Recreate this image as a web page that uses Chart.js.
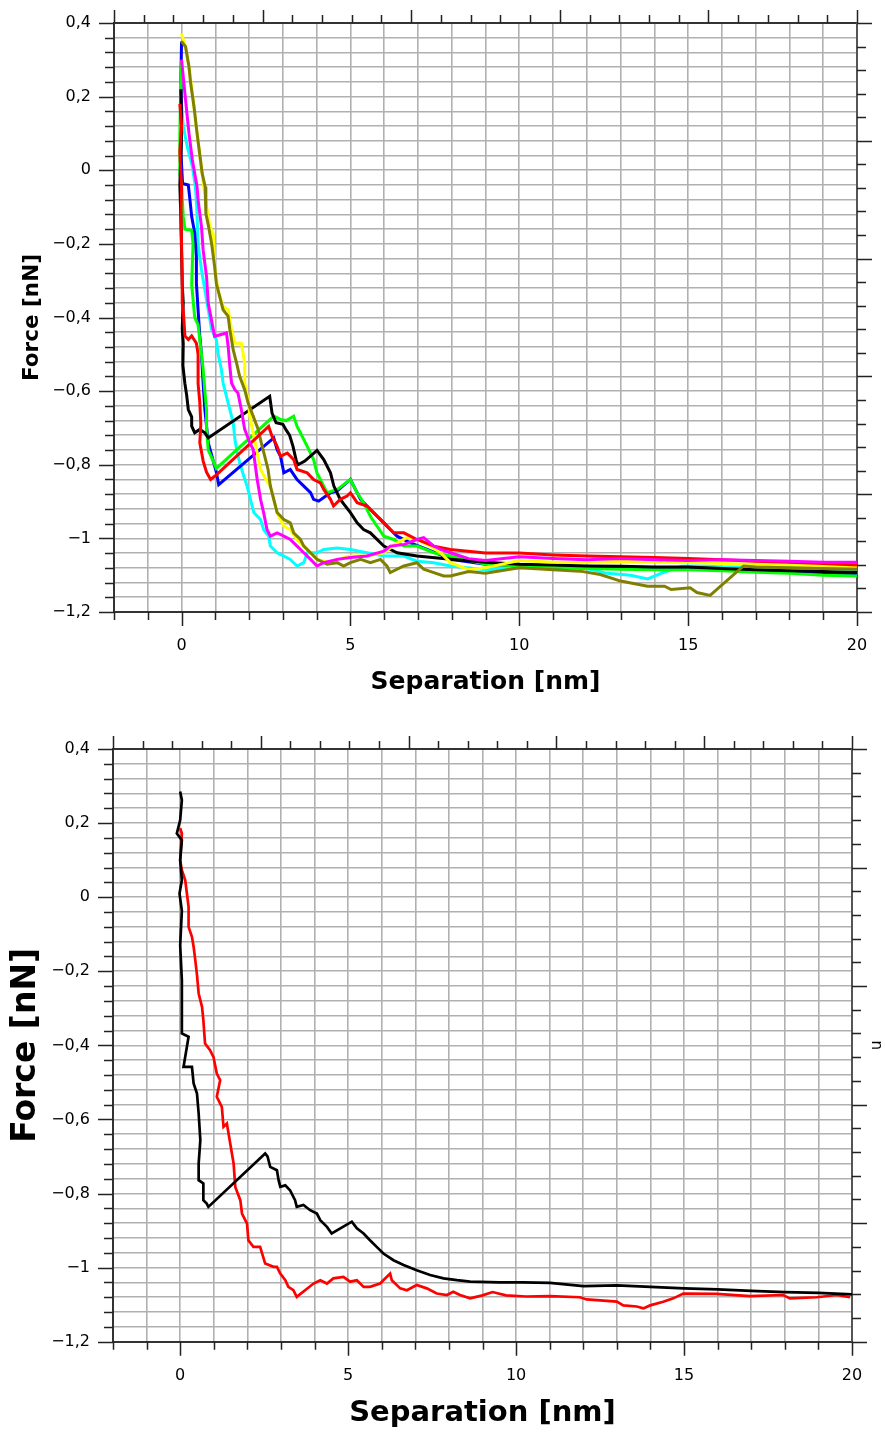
<!doctype html>
<html lang="en">
  <head>
    <meta charset="UTF-8" />
    <title>Force vs separation</title>
    <script src="https://cdn.jsdelivr.net/npm/chart.js"></script>
    <style>
      body { margin: 0; background: #fff; }
      canvas { position: absolute; left: 0; }
      #topChart { top: 0; }
      #bottomChart { top: 715px; }
    </style>
  </head>
  <body>
    <canvas id="topChart" width="885" height="700"></canvas>
    <canvas id="bottomChart" width="885" height="717"></canvas>

    <script>
      // labelled ticks
      const sepLabels = [0, 5, 10, 15, 20]
      const forceLabels = [0.4, 0.2, 0, -0.2, -0.4, -0.6, -0.8, -1, -1.2]

      // top panel, [separation nm, force nN]
      const topBlack = [
        [-0.02, 0.22], [0, 0.1], [-0.05, -0.04], [-0.02, -0.13], [0, -0.22], [0.02, -0.31],
        [0.05, -0.36], [0.02, -0.43], [0.05, -0.47], [0.04, -0.53], [0.1, -0.58], [0.15, -0.61],
        [0.2, -0.65], [0.3, -0.67], [0.3, -0.695], [0.39, -0.713], [0.54, -0.704], [0.69, -0.713],
        [0.79, -0.727], [2.61, -0.614], [2.68, -0.66], [2.8, -0.686], [3.0, -0.69], [3.1, -0.706],
        [3.2, -0.72], [3.3, -0.75], [3.4, -0.79], [3.45, -0.8], [3.65, -0.79], [4.01, -0.761],
        [4.21, -0.786], [4.41, -0.822], [4.51, -0.858], [4.7, -0.894], [5.0, -0.93], [5.2, -0.958],
        [5.39, -0.976], [5.59, -0.985], [5.99, -1.021], [6.38, -1.039], [6.97, -1.048], [7.96, -1.057],
        [9, -1.065], [10, -1.07], [11, -1.072], [12, -1.075], [13, -1.076], [14, -1.078], [15, -1.078],
        [16, -1.082], [17, -1.085], [18, -1.088], [19, -1.09], [20, -1.093],
      ]
      const topRed = [
        [-0.05, 0.18], [0, 0.12], [-0.05, 0.05], [0, -0.05], [-0.02, -0.12], [0, -0.2], [0.02, -0.3],
        [0.02, -0.36], [0.05, -0.38], [0.1, -0.45], [0.2, -0.46], [0.3, -0.45], [0.44, -0.47],
        [0.49, -0.5], [0.49, -0.58], [0.54, -0.63], [0.57, -0.69], [0.54, -0.74], [0.64, -0.79],
        [0.74, -0.82], [0.86, -0.84], [1.0, -0.83], [2.58, -0.696], [2.68, -0.723], [2.83, -0.75],
        [2.93, -0.777], [3.13, -0.768], [3.32, -0.786], [3.42, -0.813], [3.72, -0.822], [3.91, -0.84],
        [4.11, -0.849], [4.21, -0.867], [4.41, -0.894], [4.5, -0.912], [4.7, -0.894], [4.9, -0.885],
        [5.0, -0.876], [5.2, -0.903], [5.49, -0.912], [5.69, -0.93], [5.99, -0.958], [6.28, -0.985],
        [6.58, -0.985], [6.97, -1.003], [7.47, -1.021], [7.96, -1.03], [9, -1.04], [10, -1.04],
        [11, -1.045], [12, -1.048], [13, -1.05], [14, -1.052], [15, -1.055], [16, -1.058],
        [17, -1.062], [18, -1.065], [19, -1.068], [20, -1.072],
      ]
      const topGreen = [
        [0, 0.3], [-0.03, 0.2], [-0.05, 0.1], [-0.05, 0.05], [-0.05, -0.01], [0, -0.04], [0.05, -0.126],
        [0.1, -0.16], [0.3, -0.163], [0.34, -0.2], [0.3, -0.31], [0.34, -0.35], [0.39, -0.4],
        [0.49, -0.42], [0.54, -0.46], [0.59, -0.5], [0.64, -0.54], [0.69, -0.6], [0.74, -0.65],
        [0.74, -0.7], [0.79, -0.76], [0.94, -0.79], [1.03, -0.81], [2.73, -0.668], [2.93, -0.677],
        [3.1, -0.68], [3.32, -0.668], [3.42, -0.696], [3.52, -0.713], [3.72, -0.75], [3.91, -0.786],
        [4.01, -0.822], [4.21, -0.858], [4.31, -0.876], [4.61, -0.867], [5.0, -0.84], [5.2, -0.876],
        [5.39, -0.903], [5.59, -0.94], [5.79, -0.967], [5.99, -0.994], [6.28, -1.003], [6.58, -1.021],
        [6.97, -1.021], [7.47, -1.039], [7.96, -1.048], [9, -1.07], [10, -1.075], [11, -1.078],
        [12, -1.082], [13, -1.084], [14, -1.085], [15, -1.085], [16, -1.088], [17, -1.092],
        [18, -1.095], [19, -1.1], [20, -1.102],
      ]
      const topBlue = [
        [0, 0.35], [-0.02, 0.25], [0, 0.15], [-0.02, 0.05], [0.03, -0.036], [0.2, -0.04],
        [0.25, -0.081], [0.3, -0.126], [0.39, -0.17], [0.44, -0.235], [0.44, -0.307], [0.49, -0.38],
        [0.54, -0.45], [0.59, -0.5], [0.64, -0.58], [0.69, -0.65], [0.74, -0.695], [0.79, -0.74],
        [0.94, -0.79], [1.03, -0.82], [1.1, -0.854], [2.73, -0.727], [2.83, -0.759], [2.93, -0.777],
        [3.03, -0.822], [3.22, -0.813], [3.42, -0.84], [3.62, -0.858], [3.82, -0.876], [3.91, -0.894],
        [4.06, -0.899], [4.41, -0.876], [4.61, -0.871], [5.0, -0.84], [5.1, -0.858], [5.3, -0.894],
        [5.49, -0.912], [5.79, -0.94], [5.99, -0.958], [6.18, -0.976], [6.38, -0.994], [6.78, -1.012],
        [7.27, -1.03], [7.76, -1.048], [7.96, -1.057], [9, -1.07], [10, -1.075], [11, -1.078],
        [12, -1.08], [13, -1.08], [14, -1.082], [15, -1.082], [16, -1.085], [17, -1.088],
        [18, -1.092], [19, -1.096], [20, -1.098],
      ]
      const topCyan = [
        [0, 0.18], [0.05, 0.12], [0.17, 0.064], [0.32, 0.01], [0.41, -0.045], [0.45, -0.1],
        [0.49, -0.2], [0.59, -0.27], [0.69, -0.325], [0.79, -0.379], [0.89, -0.433], [1.03, -0.46],
        [1.08, -0.497], [1.18, -0.542], [1.23, -0.578], [1.33, -0.614], [1.43, -0.65], [1.53, -0.686],
        [1.58, -0.731], [1.63, -0.758], [1.72, -0.794], [1.84, -0.83], [1.94, -0.858], [2.04, -0.894],
        [2.14, -0.93], [2.34, -0.949], [2.43, -0.976], [2.58, -0.994], [2.63, -1.021], [2.83, -1.039],
        [3.03, -1.048], [3.22, -1.057], [3.42, -1.075], [3.62, -1.066], [3.72, -1.039], [4.01, -1.039],
        [4.21, -1.03], [4.61, -1.026], [5.0, -1.03], [5.49, -1.039], [5.99, -1.048], [6.58, -1.048],
        [6.97, -1.062], [7.47, -1.066], [7.96, -1.075], [9, -1.085], [10, -1.08], [11, -1.078],
        [12, -1.082], [12.6, -1.095], [13.3, -1.1], [13.8, -1.11], [14.2, -1.095], [14.8, -1.076],
        [15.5, -1.075], [16, -1.078], [17, -1.078], [18, -1.08], [19, -1.082], [20, -1.085],
      ]
      const topMagenta = [
        [0, 0.3], [0.12, 0.19], [0.22, 0.1], [0.32, 0.028], [0.46, -0.045], [0.49, -0.081],
        [0.59, -0.153], [0.64, -0.217], [0.74, -0.289], [0.79, -0.361], [0.94, -0.433], [0.98, -0.451],
        [1.33, -0.442], [1.38, -0.478], [1.43, -0.533], [1.48, -0.578], [1.58, -0.596], [1.67, -0.605],
        [1.77, -0.65], [1.87, -0.704], [2.02, -0.74], [2.12, -0.758], [2.24, -0.84], [2.34, -0.894],
        [2.43, -0.93], [2.53, -0.976], [2.63, -0.994], [2.83, -0.985], [3.03, -0.994], [3.22, -1.003],
        [3.42, -1.021], [3.62, -1.039], [3.82, -1.057], [4.01, -1.075], [4.21, -1.066], [4.61, -1.057],
        [5.0, -1.052], [5.49, -1.048], [5.99, -1.035], [6.18, -1.021], [6.58, -1.017], [6.97, -1.003],
        [7.17, -0.998], [7.47, -1.021], [7.67, -1.03], [7.96, -1.039], [8.5, -1.055], [9, -1.06],
        [10, -1.05], [11, -1.055], [12, -1.058], [13, -1.055], [14, -1.058], [15, -1.06],
        [16, -1.058], [17, -1.06], [18, -1.062], [19, -1.065], [20, -1.065],
      ]
      const topYellow = [
        [0, 0.371], [0.12, 0.335], [0.22, 0.281], [0.32, 0.209], [0.41, 0.136], [0.51, 0.064],
        [0.61, -0.008], [0.71, -0.081], [0.84, -0.153], [0.94, -0.172], [0.98, -0.262], [1.08, -0.325],
        [1.23, -0.37], [1.38, -0.379], [1.48, -0.433], [1.58, -0.47], [1.77, -0.47], [1.87, -0.524],
        [1.87, -0.578], [1.97, -0.623], [2.02, -0.668], [2.12, -0.713], [2.22, -0.758], [2.34, -0.813],
        [2.5, -0.84], [2.63, -0.858], [2.73, -0.894], [2.83, -0.93], [2.93, -0.949], [3.03, -0.967],
        [3.22, -0.976], [3.42, -1.003], [3.62, -1.021], [3.82, -1.039], [4.01, -1.057], [4.41, -1.066],
        [4.61, -1.057], [5.0, -1.048], [5.49, -1.048], [5.99, -1.039], [6.38, -1.012], [6.68, -0.998],
        [6.97, -1.003], [7.37, -1.021], [7.67, -1.039], [7.96, -1.066], [8.5, -1.085], [9, -1.08],
        [9.5, -1.07], [10, -1.06], [11, -1.065], [12, -1.065], [13, -1.062], [14, -1.064],
        [15, -1.065], [16, -1.068], [17, -1.07], [18, -1.072], [19, -1.075], [20, -1.076],
      ]
      const topOlive = [
        [0, 0.35], [0.12, 0.335], [0.22, 0.281], [0.27, 0.236], [0.37, 0.172], [0.46, 0.1],
        [0.56, 0.028], [0.61, -0.008], [0.7, -0.045], [0.72, -0.117], [0.8, -0.153], [0.89, -0.199],
        [0.98, -0.262], [1.03, -0.307], [1.13, -0.343], [1.23, -0.379], [1.38, -0.397], [1.43, -0.433],
        [1.53, -0.488], [1.63, -0.524], [1.72, -0.56], [1.87, -0.596], [1.97, -0.632], [2.12, -0.668],
        [2.27, -0.704], [2.36, -0.74], [2.46, -0.776], [2.56, -0.812], [2.63, -0.858], [2.73, -0.894],
        [2.83, -0.93], [3.03, -0.949], [3.22, -0.958], [3.32, -0.985], [3.52, -1.003], [3.62, -1.021],
        [3.82, -1.039], [4.01, -1.057], [4.31, -1.07], [4.61, -1.066], [4.8, -1.075], [5.0, -1.066],
        [5.3, -1.057], [5.59, -1.066], [5.89, -1.057], [6.08, -1.075], [6.18, -1.093], [6.58, -1.075],
        [6.97, -1.066], [7.17, -1.084], [7.47, -1.093], [7.76, -1.102], [7.96, -1.102], [8.5, -1.09],
        [9, -1.095], [10, -1.08], [11, -1.085], [11.8, -1.089], [12.4, -1.098], [13, -1.116],
        [13.8, -1.13], [14.3, -1.13], [14.5, -1.139], [15.06, -1.134], [15.26, -1.147], [15.65, -1.155],
        [16.64, -1.075], [17, -1.078], [18, -1.08], [19, -1.082], [20, -1.084],
      ]

      // bottom panel
      const bottomBlack = [
        [0, 0.285], [0.05, 0.262], [0, 0.208], [-0.1, 0.172], [0.05, 0.154], [0, 0.1], [0.05, 0.046],
        [-0.02, 0.01], [0.05, -0.037], [0, -0.13], [0.05, -0.224], [0.05, -0.314], [0.05, -0.368],
        [0.25, -0.377], [0.1, -0.458], [0.35, -0.458], [0.4, -0.503], [0.5, -0.53], [0.55, -0.584],
        [0.6, -0.656], [0.55, -0.719], [0.55, -0.764], [0.69, -0.773], [0.69, -0.818], [0.79, -0.827],
        [0.84, -0.836], [2.53, -0.692], [2.6, -0.7], [2.68, -0.728], [2.88, -0.737], [2.93, -0.764],
        [2.98, -0.782], [3.13, -0.778], [3.27, -0.791], [3.42, -0.818], [3.47, -0.836], [3.67, -0.831],
        [3.87, -0.845], [4.07, -0.854], [4.17, -0.872], [4.37, -0.89], [4.51, -0.908], [5.11, -0.876],
        [5.26, -0.894], [5.46, -0.908], [5.65, -0.926], [5.85, -0.944], [6.05, -0.962], [6.35, -0.98],
        [6.65, -0.993], [7.04, -1.007], [7.44, -1.02], [7.84, -1.029], [8.24, -1.034], [8.63, -1.038],
        [9.5, -1.04], [10.2, -1.04], [11.01, -1.041], [12, -1.05], [13, -1.048], [14, -1.052],
        [15, -1.056], [16, -1.059], [17, -1.063], [18, -1.066], [19, -1.068], [20, -1.072],
      ]
      const bottomRed = [
        [0, 0.186], [0.05, 0.172], [0, 0.1], [0.05, 0.073], [0.15, 0.046], [0.2, 0.01], [0.25, -0.026],
        [0.25, -0.08], [0.35, -0.107], [0.4, -0.134], [0.45, -0.17], [0.5, -0.21], [0.55, -0.26],
        [0.65, -0.296], [0.69, -0.332], [0.74, -0.395], [0.89, -0.413], [0.99, -0.431], [1.09, -0.476],
        [1.19, -0.494], [1.09, -0.539], [1.24, -0.566], [1.29, -0.62], [1.39, -0.611], [1.49, -0.665],
        [1.59, -0.719], [1.64, -0.782], [1.79, -0.818], [1.84, -0.854], [1.99, -0.881], [2.03, -0.926],
        [2.18, -0.944], [2.38, -0.944], [2.53, -0.989], [2.78, -0.998], [2.88, -0.998], [2.98, -1.016],
        [3.13, -1.034], [3.22, -1.052], [3.37, -1.061], [3.47, -1.079], [3.97, -1.043], [4.17, -1.034],
        [4.37, -1.043], [4.56, -1.029], [4.86, -1.025], [5.06, -1.038], [5.26, -1.034], [5.46, -1.052],
        [5.65, -1.052], [5.95, -1.043], [6.25, -1.016], [6.3, -1.034], [6.55, -1.056], [6.75, -1.061],
        [7.04, -1.047], [7.34, -1.056], [7.64, -1.07], [7.94, -1.074], [8.13, -1.065], [8.33, -1.074],
        [8.63, -1.083], [9.0, -1.075], [9.3, -1.066], [9.7, -1.075], [10.3, -1.078], [11.01, -1.077],
        [11.9, -1.08], [12.1, -1.086], [13.0, -1.092], [13.19, -1.102], [13.59, -1.105], [13.79, -1.11],
        [13.99, -1.102], [14.38, -1.092], [14.68, -1.083], [14.98, -1.07], [15.97, -1.071],
        [16.96, -1.077], [17.95, -1.074], [18.15, -1.083], [18.95, -1.08], [19.54, -1.074], [19.94, -1.08],
      ]

      // tick marks on all four sides, long ones every fifth
      const markStyle = {
        x: { short: 8, long: 14 },
        y: { short: 9, long: 15 },
        x2: { short: 8, long: 13 },
        y2: { short: 9, long: 15 },
      }
      const near = (a, b) => Math.abs(a - b) < 1e-6
      const isMajor = (id, v) => {
        if (id === 'y') return forceLabels.some((f) => near(f, v))
        if (id === 'x') return sepLabels.some((s) => near(s, v))
        return near(v % 5, 0)
      }

      const tickMarks = {
        id: 'tickMarks',
        afterDraw(chart) {
          const { ctx, chartArea } = chart
          ctx.save()
          ctx.strokeStyle = '#222'
          ctx.lineWidth = 1.5
          for (const id of Object.keys(markStyle)) {
            const scale = chart.scales[id]
            if (!scale) continue
            const st = markStyle[id]
            ctx.beginPath()
            for (const t of scale.ticks) {
              const p = Math.round(scale.getPixelForValue(t.value)) + 0.5
              const len = isMajor(id, t.value) ? st.long : st.short
              if (id === 'x') {
                ctx.moveTo(p, chartArea.bottom)
                ctx.lineTo(p, chartArea.bottom + len)
              } else if (id === 'x2') {
                ctx.moveTo(p, chartArea.top)
                ctx.lineTo(p, chartArea.top - len)
              } else if (id === 'y') {
                ctx.moveTo(chartArea.left, p)
                ctx.lineTo(chartArea.left - len, p)
              } else {
                ctx.moveTo(chartArea.right, p)
                ctx.lineTo(chartArea.right + len, p)
              }
            }
            ctx.stroke()
          }
          ctx.restore()
        },
      }

      function forceLabel(v) {
        if (!forceLabels.some((f) => near(f, v))) return ''
        const r = Math.round(v * 10) / 10
        return (r < 0 ? '\u2212' : '') + String(Math.abs(r)).replace('.', ',')
      }

      // fixed axis boxes so the plot area lands where the picture has it
      function pin(size, key) {
        return (s) => {
          s[key] = size
          s.paddingTop = 0
          s.paddingBottom = 0
          s.paddingLeft = 0
          s.paddingRight = 0
        }
      }

      function makeChart(canvas, curves, d) {
        const gridColor = '#b0b0b0'
        const border = { display: true, color: '#333', width: 2 }
        return new Chart(canvas, {
          type: 'line',
          data: {
            datasets: curves.map((c) => ({
              data: c.points.map(([x, y]) => ({ x, y })),
              borderColor: c.color,
              borderWidth: d.lineWidth,
              pointRadius: 0,
              tension: 0,
              fill: false,
            })),
          },
          options: {
            responsive: false,
            animation: false,
            layout: { padding: 0 },
            plugins: { legend: { display: false }, tooltip: { enabled: false } },
            scales: {
              x: {
                type: 'linear',
                position: 'bottom',
                min: -2,
                max: 20,
                ticks: {
                  stepSize: 1,
                  autoSkip: false,
                  maxRotation: 0,
                  padding: d.tickPadX,
                  color: '#000',
                  font: { family: 'DejaVu Sans', size: 16 },
                  callback: (v) => (sepLabels.includes(v) ? String(v) : ''),
                },
                grid: { color: gridColor, lineWidth: 1.6, drawTicks: false },
                border,
                title: {
                  display: true,
                  text: 'Separation [nm]',
                  color: '#000',
                  font: { family: 'DejaVu Sans', size: d.sepSize, weight: 'bold' },
                  padding: { top: 0, bottom: d.sepPad },
                },
                afterFit: pin(d.bottom, 'height'),
              },
              y: {
                type: 'linear',
                position: 'left',
                min: -1.2,
                max: 0.4,
                ticks: {
                  stepSize: 0.04,
                  autoSkip: false,
                  padding: 23,
                  color: '#000',
                  font: { family: 'DejaVu Sans', size: 16 },
                  callback: forceLabel,
                },
                grid: { color: gridColor, lineWidth: 1.6, drawTicks: false },
                border,
                title: {
                  display: true,
                  text: 'Force [nN]',
                  color: '#000',
                  font: { family: 'DejaVu Sans', size: d.forceSize, weight: 'bold' },
                  padding: { top: d.forcePad, bottom: 0 },
                },
                afterFit: pin(d.left, 'width'),
              },
              x2: {
                type: 'linear',
                position: 'top',
                min: 0,
                max: 25,
                ticks: { stepSize: 1, display: false },
                grid: { drawOnChartArea: false, drawTicks: false },
                border,
                afterFit: pin(d.top, 'height'),
              },
              y2: {
                type: 'linear',
                position: 'right',
                min: 0,
                max: 25,
                ticks: { stepSize: 1, display: false },
                grid: { drawOnChartArea: false, drawTicks: false },
                border: { display: true, color: '#555', width: 2 },
                title: {
                  display: !!d.sideNote,
                  text: d.sideNote || '',
                  color: '#000',
                  font: { family: 'DejaVu Sans', size: 15 },
                  padding: 0,
                },
                afterFit: pin(d.right, 'width'),
              },
            },
          },
          plugins: [tickMarks],
        })
      }

      makeChart(
        document.getElementById('topChart'),
        [
          { points: topMagenta, color: '#ff00ff' },
          { points: topRed, color: '#ff0000' },
          { points: topOlive, color: '#808000' },
          { points: topYellow, color: '#ffff00' },
          { points: topBlack, color: '#000000' },
          { points: topGreen, color: '#00ff00' },
          { points: topBlue, color: '#0000ff' },
          { points: topCyan, color: '#00ffff' },
        ],
        {
          left: 114, right: 28, top: 23, bottom: 88, tickPadX: 24, lineWidth: 3,
          sepSize: 25, sepPad: 3, forceSize: 21.5, forcePad: 20,
        },
      )

      makeChart(
        document.getElementById('bottomChart'),
        [
          { points: bottomBlack, color: '#000000' },
          { points: bottomRed, color: '#ff0000' },
        ],
        {
          left: 113, right: 33, top: 34, bottom: 90.3, tickPadX: 25, lineWidth: 2.7,
          sepSize: 29, sepPad: 1.6, forceSize: 33, forcePad: 7, sideNote: 'n',
        },
      )
    </script>
  </body>
</html>
